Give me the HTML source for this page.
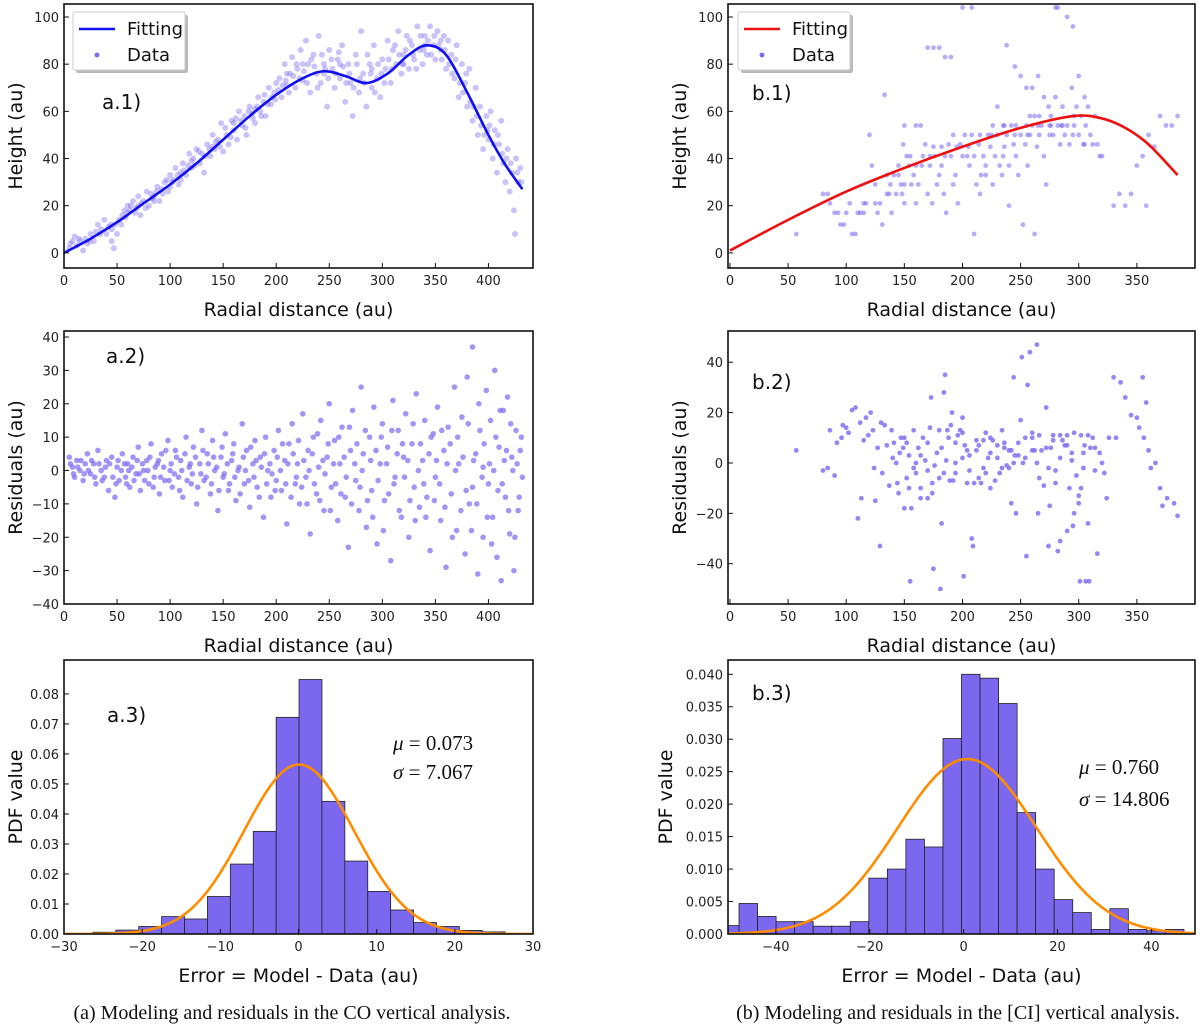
<!DOCTYPE html>
<html><head><meta charset="utf-8">
<style>
body{margin:0;background:#fff;}
svg{display:block;font-family:"DejaVu Sans","Liberation Sans",sans-serif;}
.tk{font-size:13px;fill:#222;}
.at{font-size:19px;fill:#111;}
.pl{font-size:20px;fill:#111;}
.st{font-family:"Liberation Serif",serif;font-size:21px;fill:#111;}
.cap{font-family:"Liberation Serif",serif;font-size:20px;fill:#111;}
</style></head><body>
<svg id="fig" width="1200" height="1027" viewBox="0 0 1200 1027">
<text class="cap" x="292" y="1019" text-anchor="middle">(a) Modeling and residuals in the CO vertical analysis.</text>
<text class="cap" x="958" y="1019" text-anchor="middle">(b) Modeling and residuals in the [CI] vertical analysis.</text>
</svg>
<script>
// ---------- data ----------
const fitA1X=[0,25,50,75,100,125,150,175,200,225,245,265,285,305,325,342,360,380,400,415,432];
const fitA1Y=[0,6,13,21,29,38,48,58,67,74,77,75,72,76,84,88,84,68,50,38,27];
const a1Points=[[5,2],[8,5],[10,7],[12,3],[15,5],[18,1],[20,6],[22,4],[25,8],[28,5],[30,9],[32,12],[35,10],[38,14],[40,8],[42,11],[45,10],[45,5],[47,2],[48,12],[50,8],[52,14],
[55,16],[58,15],[60,20],[62,18],[65,22],[68,19],[70,24],[72,16],[75,22],[78,26],[80,20],[82,25],[85,24],[88,28],[90,22],[92,27],[95,30],[98,26],[100,33],[100,28],
[103,31],[105,36],[108,29],[110,34],[112,38],[115,33],[118,42],[120,36],[122,40],[125,44],[128,38],[130,42],[132,34],[135,46],[138,41],[140,50],[142,44],[145,48],[148,55],[150,43],
[153,50],[155,46],[158,56],[160,52],[163,48],[165,60],[168,54],[170,58],[172,50],[175,62],[178,57],[180,55],[183,66],[185,60],[188,64],[190,58],[193,70],[195,63],[198,68],[200,72],
[203,74],[205,66],[208,80],[210,71],[213,76],[215,83],[218,70],[220,78],[223,86],[225,73],[228,90],[230,80],[232,68],[235,84],[238,76],[240,92],[242,72],[245,80],[248,62],[250,86],
[253,78],[255,70],[258,82],[260,74],[262,88],[265,64],[268,80],[270,72],[272,58],[275,84],[278,68],[280,94],[282,76],[285,62],[288,80],[290,70],[292,88],[295,74],[298,66],[300,82],
[303,78],[305,90],[308,72],[310,86],[313,80],[315,94],[318,76],[320,84],[323,92],[325,78],[328,88],[330,82],[333,96],[335,86],[338,80],[340,92],[342,84],[345,96],[348,88],[350,82],
[352,94],[355,86],[358,92],[360,78],[362,90],[365,84],[368,74],[370,88],[372,66],[375,80],[378,72],[380,62],[382,78],[385,56],[388,70],[390,50],[392,62],[395,44],[398,58],[400,48],
[402,60],[404,40],[406,52],[408,34],[410,46],[412,56],[414,38],[416,30],[418,44],[420,26],[422,34],[424,18],[426,40],[428,30],[430,36],[425,8],
[60,17],[70,20],[85,22],[110,31],[120,39],[140,45],[160,55],[180,61],[210,76],[225,80],[245,76],[260,80],[290,78],[320,80],[340,88],[355,90]];
const a1Extra=[[6,4],[14,6],[24,5],[34,8],[44,12],[54,12],[57,18],[63,20],[67,17],[73,21],[77,19],[83,23],[87,26],[93,25],[97,31],[102,30],[107,33],[113,35],[117,37],[123,37],[127,43],[133,41],[137,44],[143,47],[147,45],[152,53],[157,49],[162,57],[167,56],[171,53],[174,60],[177,59],[182,62],[186,58],[189,67],[192,63],[196,66],[199,65],[202,69],[206,71],[209,73],[212,68],[216,75],[219,80],[222,74],[226,77],[229,72],[233,82],[236,79],[239,70],[243,84],[246,78],[249,74],[252,82],[256,76],[259,85],[263,79],[266,72],[269,76],[273,70],[276,80],[279,74],[283,72],[286,84],[289,76],[293,68],[296,80],[299,76],[302,72],[306,82],[309,78],[312,88],[316,84],[319,80],[322,86],[326,90],[329,84],[332,78],[336,92],[339,86],[343,90],[346,84],[349,92],[353,88],[356,82],[359,86],[363,80],[366,76],[369,82],[373,72],[376,68],[379,76],[383,64],[386,62],[389,58],[393,54],[396,50],[399,52],[401,54],[405,46],[409,50],[413,42],[417,40],[421,38],[427,34],[431,30]];
const a2Points=[[5,4],[8,1],[10,-2],[12,3],[15,0],[18,-3],[20,2],[22,5],[25,-1],[28,2],[30,-4],[32,6],[35,0],[38,-2],[40,3],[42,-6],[45,4],[48,-8],[50,1],[52,-3],
[55,5],[58,-2],[60,2],[62,-5],[65,4],[68,-1],[70,7],[72,-6],[75,0],[78,3],[80,-4],[82,8],[85,-2],[88,2],[90,-7],[92,5],[95,-3],[98,9],[100,0],[102,-5],
[105,6],[108,-2],[110,3],[112,-8],[115,10],[118,1],[120,-4],[122,7],[125,-10],[128,2],[130,12],[132,-3],[135,5],[138,-7],[140,9],[142,0],[145,-12],[148,4],[150,-2],[152,11],
[155,-6],[158,3],[160,8],[162,-9],[165,1],[168,14],[170,-4],[172,6],[175,-11],[178,2],[180,9],[182,-5],[185,4],[188,-14],[190,10],[192,0],[195,-8],[198,6],[200,-3],[202,12],
[205,-6],[208,3],[210,-16],[212,8],[215,14],[218,-4],[220,2],[222,-10],[225,17],[228,-2],[230,6],[232,-19],[235,10],[238,-7],[240,1],[242,15],[245,-12],[248,4],[250,20],[252,-5],
[255,9],[258,-15],[260,2],[262,13],[265,-8],[268,-23],[270,6],[272,18],[275,-3],[278,-12],[280,25],[282,5],[285,-17],[288,10],[290,-6],[292,19],[295,-22],[298,2],[300,14],[302,-9],
[305,7],[308,-27],[310,21],[312,-2],[315,12],[318,-14],[320,4],[322,17],[325,-20],[328,8],[330,-5],[332,23],[335,-11],[338,3],[340,15],[342,-8],[345,-24],[348,11],[350,-2],[352,19],
[355,-15],[358,6],[360,-29],[362,13],[365,-7],[368,25],[370,-18],[372,2],[375,16],[378,-25],[380,28],[382,-10],[385,37],[388,5],[390,-31],[392,12],[395,-20],[398,24],[400,-4],[402,15],
[404,-14],[406,30],[408,-26],[410,7],[412,-33],[414,18],[416,-8],[418,22],[420,-19],[422,4],[424,-30],[426,12],[428,-12],[430,6],[432,-2],[405,0],[415,3],[395,1],[385,-5]];
const a2Extra=[[6,2],[9,-1],[13,1],[16,3],[19,-1],[23,0],[26,3],[29,-2],[33,2],[36,-3],[39,1],[43,2],[46,-2],[49,-4],[51,3],[54,0],[57,2],[59,-4],[61,0],[64,1],[66,-3],[69,3],[71,-1],[74,2],[76,-3],[79,0],[81,4],[84,-5],[86,1],[89,3],[91,-2],[94,1],[96,6],[99,-3],[101,2],[104,-1],[106,4],[109,-6],[111,0],[114,5],[116,-3],[119,2],[121,-1],[124,4],[126,-5],[129,-1],[131,6],[134,-2],[136,2],[139,-4],[141,4],[144,1],[146,-6],[149,7],[151,-1],[154,2],[156,-4],[159,5],[161,-2],[164,0],[166,-7],[169,4],[171,0],[174,-3],[176,7],[179,-2],[181,3],[184,-8],[186,1],[189,5],[191,-4],[194,2],[196,-1],[199,-6],[201,4],[204,0],[206,8],[209,-4],[211,2],[214,-8],[216,5],[219,-2],[221,9],[224,-5],[226,3],[229,-10],[231,0],[234,5],[236,-4],[239,11],[241,-9],[244,3],[246,-1],[249,8],[251,-12],[254,2],[256,-4],[259,10],[261,-7],[264,4],[266,-2],[269,13],[271,-10],[274,2],[276,8],[279,-5],[281,0],[284,12],[286,-9],[289,3],[291,-14],[294,6],[296,-3],[299,10],[301,-18],[304,2],[306,-7],[309,12],[311,-4],[314,5],[316,-12],[319,8],[321,-2],[324,3],[326,-9],[329,14],[331,-15],[334,0],[336,8],[339,-4],[341,-14],[344,5],[346,10],[349,-9],[351,3],[354,-4],[356,12],[359,-11],[361,2],[364,8],[366,-20],[369,0],[371,10],[374,-12],[376,4],[379,-6],[381,14],[384,-18],[386,3],[389,-10],[391,20],[394,-2],[396,8],[399,-14],[401,2],[403,-22],[407,10],[409,-6],[411,18],[413,-4],[417,6],[419,-12],[421,14],[423,0],[425,-20],[427,2],[429,-8],[431,10]];
const b1Points=[[57,8],[80,25],[84,25],[86,21],[90,17],[93,17],[95,12],[98,12],[100,17],[103,21],[105,8],[108,8],[110,17],[112,17],[115,21],[117,21],[120,50],[122,37],[125,29],[127,17],[129,21],[131,12],[133,67],[135,33],[137,25],[139,17],[141,33],[143,25],[145,37],[147,29],[149,46],[150,54],[152,41],[154,37],[156,29],[158,33],[160,37],[162,29],[164,54],[166,41],[168,46],[170,25],[172,37],[174,21],[176,41],[178,29],[180,33],[182,37],[184,25],[186,17],[188,46],[190,41],[192,29],[194,33],[196,21],[198,46],[200,41],[202,50],[204,41],[206,37],[208,50],[210,41],[212,29],[214,46],[216,33],[218,41],[220,37],[222,50],[224,45],[226,29],[228,41],[230,50],[232,37],[234,33],[236,45],[238,50],[240,37],[242,54],[244,46],[246,41],[248,33],[250,50],[252,12],[254,46],[256,37],[258,50],[260,54],[262,8],[264,45],[266,50],[268,54],[270,41],[272,29],[274,62],[276,54],[278,50],[280,66],[282,54],[284,46],[286,62],[288,50],[290,54],[292,46],[294,70],[296,54],[298,62],[300,50],[302,58],[304,46],[306,54],[308,62],[310,50],[312,46],[314,58],[316,46],[318,41],[320,41],[230,62],[235,41],[238,88],[240,20],[245,79],[250,75],[255,70],[260,70],[265,75],[270,66],[275,54],[280,104],[282,104],[290,100],[295,96],[300,75],[305,66],[170,87],[175,87],[180,87],[185,83],[190,83],[200,104],[208,104],[150,29],[160,54],[340,20],[345,25],[350,37],[355,41],[358,20],[360,50],[365,45],[370,58],[375,54],[380,54],[385,58],[210,8],[215,25],[220,33],[330,20],[335,25],[258,58],[262,58],
[145,33],[155,41],[165,37],[175,45],[185,41],[195,45],[205,45],[215,50],[225,50],[235,54],[245,50],[255,54],[265,54],[275,50],[285,54],[295,50],[305,46],[135,25],[125,21],[115,17],[150,21],[160,21],[172,41],[182,45],[192,50],[226,54],[236,54],[246,54],[256,50],[266,58],[276,58],[286,54],[296,58],[138,29],[148,25]];
const b2Points=[[57,5],[80,-3],[84,-2],[86,13],[90,-5],[92,8],[96,10],[97,15],[100,14],[102,12],[105,21],[108,22],[110,-22],[112,16],[113,-14],[115,9],[117,18],[119,11],[121,20],[123,13],[124,-2],[125,-15],[127,6],[129,-33],[130,16],[131,-4],[133,15],[135,7],[137,-9],[139,13],[141,8],[143,0],[145,-12],[147,10],[149,6],[150,-18],[152,-6],[154,3],[155,-47],[156,-18],[158,13],[160,-4],[162,6],[164,-10],[166,10],[168,1],[170,-14],[172,14],[173,26],[174,-12],[175,-42],[178,4],[180,13],[181,-50],[182,-24],[184,28],[185,35],[186,1],[187,13],[189,-7],[190,15],[191,20],[192,-7],[194,0],[196,11],[198,13],[200,18],[201,-45],[202,7],[204,5],[206,-3],[208,-30],[209,-33],[210,-8],[212,5],[214,7],[216,-8],[218,9],[220,-4],[222,2],[224,10],[226,9],[228,-7],[230,7],[232,-4],[234,13],[236,8],[238,-1],[240,5],[242,-16],[244,34],[245,3],[246,-20],[248,3],[250,17],[251,42],[252,0],[255,-37],[256,31],[258,44],[260,12],[262,5],[264,47],[266,-6],[268,5],[270,-9],[272,22],[274,-33],[276,6],[278,9],[280,-3],[282,-35],[284,-31],[286,9],[288,7],[290,7],[292,-10],[294,1],[296,-20],[298,-5],[300,-13],[301,-47],[302,-10],[304,-2],[305,7],[306,-47],[308,-24],[309,-47],[310,6],[312,10],[314,-3],[316,-36],[318,4],[320,0],[322,-4],[324,-14],[326,10],[330,34],[332,10],[336,32],[340,26],[345,19],[350,18],[352,14],[355,34],[356,10],[358,24],[360,5],[362,-2],[366,0],[370,-10],[372,-17],[376,-14],[382,-16],[385,-21],[150,10],[160,0],[170,-3],[180,-6],[200,2],[220,12],[240,-2],[260,5],[280,-8],[300,-16],[265,-20],[275,-17],[290,-27],[295,-25],
[140,2],[146,4],[152,8],[158,-2],[164,3],[170,8],[176,-1],[182,6],[188,10],[194,-4],[200,12],[206,3],[212,9],[218,-2],[224,4],[230,2],[236,6],[242,5],[248,8],[254,2],[260,10],[266,11],[272,6],[278,11],[284,11],[290,11],[296,12],[302,11],[308,11],[314,6],[144,-8],[154,-10],[164,-14],[174,-8],[184,-4],[194,8],[204,-8],[214,-6],[224,-10],[234,-2],[244,0],[254,10],[264,0],[274,-2],[284,2],[294,4],[304,4]];
const a3Edges0=-26.3, a3Width=2.93;
const a3Heights=[0.0006,0.0013,0.0025,0.0058,0.005,0.0125,0.0233,0.0342,0.0722,0.0848,0.0442,0.0243,0.0142,0.008,0.0038,0.0025,0.0012,0.0007];
const a3Mu=0.073, a3Sigma=7.067;
const b3Edges0=-51.8, b3Width=3.95;
const b3Heights=[0.0013,0.0047,0.0027,0.0019,0.0019,0.0012,0.0012,0.0019,0.0086,0.010,0.0146,0.0134,0.0301,0.040,0.0394,0.0355,0.0187,0.010,0.0053,0.0033,0.0007,0.0039,0.0007,0.0005,0.0007];
const b3Mu=0.76, b3Sigma=14.806;
const fitB1X=[0,50,100,150,200,250,295,320,340,360,385];
const fitB1Y=[1,14,26,36,45,53,58,57,53,46,33];

// ---------- helpers ----------
const NS="http://www.w3.org/2000/svg";
const svg=document.getElementById('fig');
function mk(tag,attrs,parent){const e=document.createElementNS(NS,tag);for(const k in attrs)e.setAttribute(k,attrs[k]);(parent||svg).appendChild(e);return e;}
function fmtMinus(s){return String(s).replace('-','\u2212');}
function panel(p){
  const g=mk('g',{});
  
  
  const [L,T,R,B]=p.box;
  const sx=v=>L+(v-p.x[0])/(p.x[1]-p.x[0])*(R-L);
  const sy=v=>B-(v-p.y[0])/(p.y[1]-p.y[0])*(B-T);
  const cid='c'+p.name;
  const cp=mk('clipPath',{id:cid},g);mk('rect',{x:L,y:T,width:R-L,height:B-T},cp);
  const plot=mk('g',{'clip-path':'url(#'+cid+')'},g);
  p.draw(plot,sx,sy);
  mk('rect',{x:L,y:T,width:R-L,height:B-T,fill:'none',stroke:'#111','stroke-width':1.6},g);
  p.xt.forEach(v=>{const x=sx(v);mk('line',{x1:x,x2:x,y1:B,y2:B-5,stroke:'#111','stroke-width':1},g);
    const t=mk('text',{x:x,y:B+17,'text-anchor':'middle',class:'tk'},g);t.textContent=fmtMinus(v);
    
    });
  p.yt.forEach((v,i)=>{const y=sy(v);mk('line',{x1:L,x2:L+5,y1:y,y2:y,stroke:'#111','stroke-width':1},g);
    const t=mk('text',{x:L-5,y:y+5,'text-anchor':'end',class:'tk'},g);t.textContent=p.ytl?p.ytl[i]:fmtMinus(v);
    
    });
  const xt=mk('text',{x:(L+R)/2,y:B+48,'text-anchor':'middle',class:'at'},g);xt.textContent=p.xl;
  
  
  const yx=p.ylx, yy=(T+B)/2;
  const yt=mk('text',{x:yx,y:yy,'text-anchor':'middle',class:'at',transform:`rotate(-90 ${yx} ${yy})`},g);yt.textContent=p.yl;
  
  
  const pl=mk('text',{x:p.lab[0],y:p.lab[1],class:'pl'},g);pl.textContent=p.label;
  
  
  return {g,sx,sy};
}
function scatter(plot,sx,sy,pts,color,op,r){pts.forEach(d=>{const c=mk('circle',{cx:sx(d[0]),cy:sy(d[1]),r:r||2.4,fill:color,'fill-opacity':op},plot);
  
  });}
function curve(plot,sx,sy,xs,ys,color){
  const P=xs.map((x,i)=>[sx(x),sy(ys[i])]);let d='M'+P[0][0]+','+P[0][1];
  for(let i=0;i<P.length-1;i++){const p0=P[Math.max(0,i-1)],p1=P[i],p2=P[i+1],p3=P[Math.min(P.length-1,i+2)];
    d+=` C${p1[0]+(p2[0]-p0[0])/6},${p1[1]+(p2[1]-p0[1])/6} ${p2[0]-(p3[0]-p1[0])/6},${p2[1]-(p3[1]-p1[1])/6} ${p2[0]},${p2[1]}`;}
  const e=mk('path',{d:d,fill:'none',stroke:color,'stroke-width':2.6},plot);
  
  }
function hist(plot,sx,sy,e0,w,hs){hs.forEach((h,i)=>{const x0=sx(e0+i*w),x1=sx(e0+(i+1)*w);
  const r=mk('rect',{x:x0,y:sy(h),width:x1-x0,height:sy(0)-sy(h),fill:'#7b68ee',stroke:'#222','stroke-width':0.8},plot);
  
  });}
function gauss(plot,sx,sy,mu,s,xr){let d='';for(let i=0;i<=300;i++){const x=xr[0]+(xr[1]-xr[0])*i/300;
  const y=Math.exp(-0.5*((x-mu)/s)**2)/(s*Math.sqrt(2*Math.PI));d+=(i?'L':'M')+sx(x)+','+sy(y);}
  const e=mk('path',{d:d,fill:'none',stroke:'#ff8c00','stroke-width':2.6},plot);
  
  }
function legend(x,y,color){const g=mk('g',{});
  
  
  mk('rect',{x:x+3,y:y+3,width:112,height:58,fill:'#bbb',rx:2},g);
  mk('rect',{x:x,y:y,width:112,height:58,fill:'#fff',stroke:'#ccc',rx:2},g);
  mk('line',{x1:x+6,x2:x+42,y1:y+17,y2:y+17,stroke:color,'stroke-width':2.6},g);
  mk('circle',{cx:x+24,cy:y+43,r:2.4,fill:'#7b68ee'},g);
  const t1=mk('text',{x:x+54,y:y+23,class:'pl'},g);t1.textContent='Fitting';t1.style.fontSize='18px';
  const t2=mk('text',{x:x+54,y:y+49,class:'pl'},g);t2.textContent='Data';t2.style.fontSize='18px';}
function stat(x,y,sym,val,name){const t=mk('text',{x:x,y:y,class:'st'});
  
  
  const a=mk('tspan',{'font-style':'italic'},t);a.textContent=sym;const b=mk('tspan',{},t);b.textContent=' = '+val;}

const r50=[0,50,100,150,200,250,300,350,400];
panel({name:'panel-a1',box:[64,4,533,268],x:[0,442],y:[-6.4,105.5],xt:r50,yt:[0,20,40,60,80,100],
  xl:'Radial distance (au)',yl:'Height (au)',ylx:22,label:'a.1)',lab:[102,109],
  draw:(pl,sx,sy)=>{scatter(pl,sx,sy,a1Points,'#7b68ee',0.4,3);scatter(pl,sx,sy,a1Extra,'#7b68ee',0.4,3);curve(pl,sx,sy,fitA1X,fitA1Y,'#1010ee');}});
legend(73,12,'#1010ee');
panel({name:'panel-a2',box:[64,331,533,604],x:[0,442],y:[-40,41.8],xt:r50,yt:[-40,-30,-20,-10,0,10,20,30,40],
  xl:'Radial distance (au)',yl:'Residuals (au)',ylx:22,label:'a.2)',lab:[106,363],
  draw:(pl,sx,sy)=>{scatter(pl,sx,sy,a2Points,'#7b68ee',0.7,2.8);scatter(pl,sx,sy,a2Extra,'#7b68ee',0.7,2.8);}});
panel({name:'panel-a3',box:[64,660,533,934],x:[-30,30],y:[0,0.0913],xt:[-30,-20,-10,0,10,20,30],
  yt:[0,0.01,0.02,0.03,0.04,0.05,0.06,0.07,0.08],ytl:['0.00','0.01','0.02','0.03','0.04','0.05','0.06','0.07','0.08'],
  xl:'Error = Model - Data (au)',yl:'PDF value',ylx:22,label:'a.3)',lab:[107,722],
  draw:(pl,sx,sy)=>{hist(pl,sx,sy,a3Edges0,a3Width,a3Heights);gauss(pl,sx,sy,a3Mu,a3Sigma,[-30,30]);}});
stat(393,750,'\u03bc','0.073','stat-mu-a');stat(393,779,'\u03c3','7.067','stat-sigma-a');

panel({name:'panel-b1',box:[728,4,1195,268],x:[-1.7,400],y:[-6.4,105.5],xt:[0,50,100,150,200,250,300,350],yt:[0,20,40,60,80,100],
  xl:'Radial distance (au)',yl:'Height (au)',ylx:686,label:'b.1)',lab:[752,100],
  draw:(pl,sx,sy)=>{scatter(pl,sx,sy,b1Points,'#7b68ee',0.55);curve(pl,sx,sy,fitB1X,fitB1Y,'#ee1010');}});
legend(738,12,'#ee1010');
panel({name:'panel-b2',box:[728,331,1195,604],x:[-1.7,400],y:[-56,52.4],xt:[0,50,100,150,200,250,300,350],yt:[-40,-20,0,20,40],
  xl:'Radial distance (au)',yl:'Residuals (au)',ylx:686,label:'b.2)',lab:[752,389],
  draw:(pl,sx,sy)=>{scatter(pl,sx,sy,b2Points,'#7b68ee',0.8);}});
panel({name:'panel-b3',box:[728,660,1195,934],x:[-50.2,49.3],y:[0,0.0422],xt:[-40,-20,0,20,40],
  yt:[0,0.005,0.01,0.015,0.02,0.025,0.03,0.035,0.04],ytl:['0.000','0.005','0.010','0.015','0.020','0.025','0.030','0.035','0.040'],
  xl:'Error = Model - Data (au)',yl:'PDF value',ylx:672,label:'b.3)',lab:[752,700],
  draw:(pl,sx,sy)=>{hist(pl,sx,sy,b3Edges0,b3Width,b3Heights);gauss(pl,sx,sy,b3Mu,b3Sigma,[-50.2,49.3]);}});
stat(1079,774,'\u03bc','0.760','stat-mu-b');stat(1079,806,'\u03c3','14.806','stat-sigma-b');
</script>
</body></html>
